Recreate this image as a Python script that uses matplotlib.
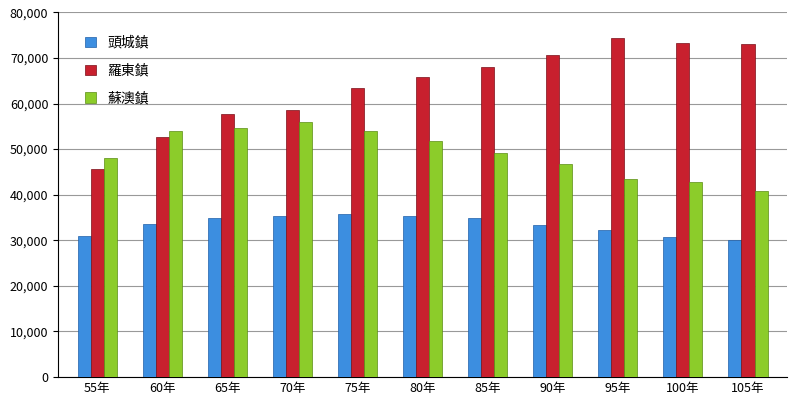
import matplotlib.pyplot as plt
import numpy as np

plt.rcParams['font.family'] = ['Noto Sans CJK TC', 'DejaVu Sans']

years = ['55年', '60年', '65年', '70年', '75年', '80年', '85年', '90年', '95年', '100年', '105年']
toucheng = [30900, 33500, 34900, 35300, 35700, 35300, 34900, 33300, 32200, 30700, 30000]
luodong = [45600, 52600, 57700, 58500, 63400, 65800, 68000, 70600, 74300, 73200, 73000]
suao = [48000, 53900, 54600, 55900, 53900, 51700, 49100, 46700, 43400, 42800, 40800]

fig, ax = plt.subplots(figsize=(7.95, 4.12), dpi=100)
fig.subplots_adjust(left=0.073, right=0.99, top=0.97, bottom=0.085)
x = np.arange(len(years))
w = 0.2
ax.bar(x - w, toucheng, w, color='#3c8ee0', edgecolor='#1f5fa8', linewidth=0.5, label='頭城鎮', zorder=3)
ax.bar(x, luodong, w, color='#c8202e', edgecolor='#7a0f18', linewidth=0.5, label='羅東鎮', zorder=3)
ax.bar(x + w, suao, w, color='#8ccc2a', edgecolor='#5a8c14', linewidth=0.5, label='蘇澳鎮', zorder=3)

ax.set_ylim(0, 80000)
ax.set_yticks(range(0, 80001, 10000))
ax.set_yticklabels([f'{v:,}' for v in range(0, 80001, 10000)], fontsize=9)
ax.set_xticks(x)
ax.set_xticklabels(years, fontsize=9)
ax.set_xlim(-0.6, len(years) - 0.4)
ax.yaxis.grid(True, color='#999999', linewidth=0.8, zorder=0)
for s in ['top', 'right']:
    ax.spines[s].set_visible(False)
ax.tick_params(axis='x', length=0)
ax.legend(loc='upper left', bbox_to_anchor=(0.02, 0.97), frameon=False, fontsize=10,
          handlelength=0.8, handleheight=0.8, labelspacing=1.0)
fig.savefig('out.png')
